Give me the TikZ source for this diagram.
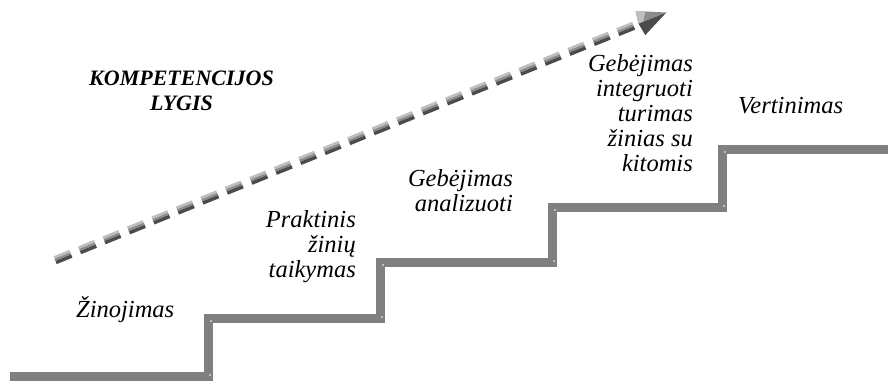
\documentclass[tikz,border=0pt]{standalone}
\usepackage{fontspec}
\setmainfont{Liberation Serif}
\definecolor{stairgray}{RGB}{128,128,128}
\definecolor{dashlight}{RGB}{190,190,190}
\definecolor{dashmid}{RGB}{140,140,140}
\definecolor{dashdark}{RGB}{75,75,75}
\begin{document}
\setlength{\lineskiplimit}{-30pt}%
\begin{tikzpicture}[x=1pt,y=1pt,
  stair/.style={draw=stairgray, line width=9pt, line join=miter, line cap=butt},
  lbl/.style={inner sep=0pt, align=right,
    font=\fontsize{24.5}{25}\selectfont\itshape},
  title/.style={inner sep=0pt, align=center,
    font=\fontsize{22}{24}\selectfont\bfseries\itshape},
  nick/.style={fill=white, circle, inner sep=0pt, minimum size=1.6pt}]
\useasboundingbox (0,0) rectangle (888,381);

% staircase corner points
\coordinate (s0) at (10,5);
\coordinate (s1) at (208,5);
\coordinate (s2) at (208,63);
\coordinate (s3) at (380,63);
\coordinate (s4) at (380,119);
\coordinate (s5) at (552,119);
\coordinate (s6) at (552,174);
\coordinate (s7) at (722,174);
\coordinate (s8) at (722,232);
\coordinate (s9) at (890,232);
\draw[stair] (s0) -- (s1) -- (s2) -- (s3) -- (s4) -- (s5) -- (s6) -- (s7) -- (s8) -- (s9);

% small light marks at the corners of each riser
\foreach \x/\ya/\yb in {208/5/63, 380/63/119, 552/119/174, 722/174/232} {
  \node[nick] at (\x+2,\ya+1) {};
  \node[nick] at (\x+3,\yb-3) {};
}

% rising dashed arrow made of small bevelled blocks
\begin{scope}[shift={(63,124)}, rotate=22.06]
  \foreach \k in {0,...,23} {
    \begin{scope}[xshift=\k*26.4]
      \fill[dashlight] (-8.5,1.5) rectangle (8.5,4.2);
      \fill[dashmid] (-8.5,-0.8) rectangle (8.5,1.5);
      \fill[dashdark] (-8.5,-4.2) rectangle (8.5,-0.8);
    \end{scope}
  }
  % arrow head
  \fill[dashmid] (621,0) -- (623,13) -- (651,0) -- cycle;
  \fill[dashlight] (623,13) -- (632,8.8) -- (626,0) -- (621,0) -- cycle;
  \fill[dashdark] (621,0) -- (623,-13) -- (651,0) -- cycle;
\end{scope}

% labels of the levels
\node[lbl, anchor=base west] (l1) at (76,64) {Žinojimas};
\node[lbl, anchor=base east] (l2) at (356,104) {Praktinis\\žinių\\taikymas};
\node[lbl, anchor=base east] (l3) at (513,170) {Gebėjimas\\analizuoti};
\node[lbl, anchor=base east] (l4) at (693,210) {Gebėjimas\\integruoti\\turimas\\žinias su\\kitomis};
\node[lbl, anchor=base west] (l5) at (738,268) {Vertinimas};

\node[title, anchor=base] (t) at (181.5,271) {KOMPETENCIJOS\\LYGIS};
\end{tikzpicture}
\end{document}
